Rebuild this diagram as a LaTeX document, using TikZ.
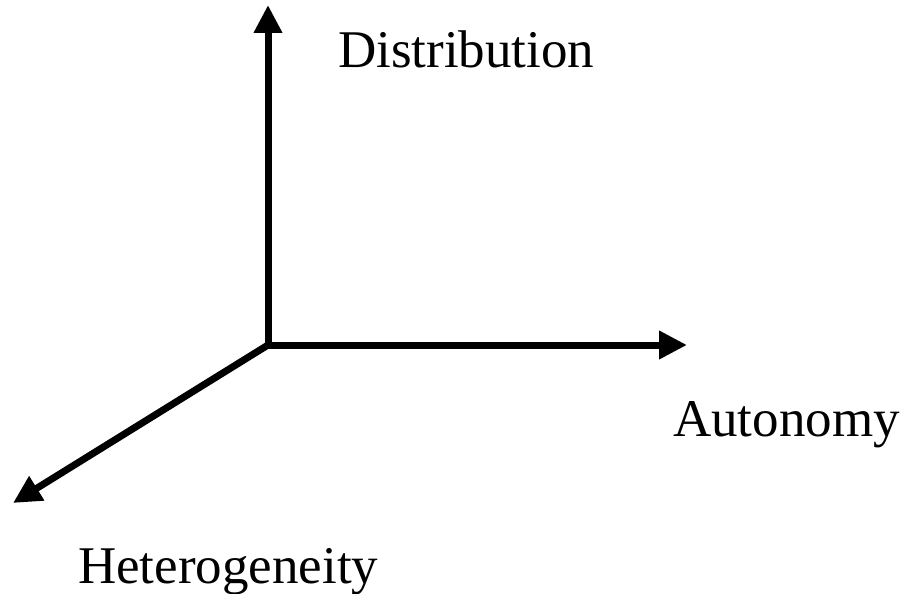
\documentclass[tikz,border=0pt]{standalone}
\usepackage{fontspec}
\setmainfont{Liberation Serif}
\usetikzlibrary{arrows.meta}

\begin{document}
\begin{tikzpicture}[
  x=1pt, y=-1pt,
  axis/.style={-{Triangle[length=28pt,width=27pt]}, line width=7pt},
  label/.style={font=\fontsize{53}{60}\selectfont, inner sep=0pt, anchor=base west}
]
\useasboundingbox (0,0) rectangle (906,594);

% Origin and the three axis ends.
\coordinate (origin) at (268,345);
\coordinate (distEnd) at (268,5);
\coordinate (autoEnd) at (687,345);
\coordinate (hetEnd) at (13,503);

\draw[axis] (origin) -- (distEnd);
\draw[axis] (origin) -- (autoEnd);
\draw[axis] (origin) -- (hetEnd);

% Axis labels.
\node[label] (dist) at (338,68) {Distribution};
\node[label] (auto) at (673,436) {Autonomy};
\node[label] (het) at (78,583) {Heterogeneity};

\end{tikzpicture}
\end{document}
